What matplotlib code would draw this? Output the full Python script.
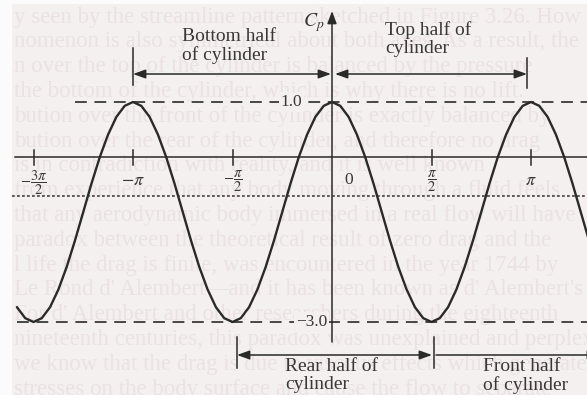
import numpy as np
import matplotlib
matplotlib.use("Agg")
import matplotlib.pyplot as plt
from matplotlib.patches import Rectangle

plt.rcParams['mathtext.fontset'] = 'stix'
plt.rcParams['font.family'] = ['Liberation Serif', 'DejaVu Serif']
plt.rcParams['lines.scale_dashes'] = False

# Pressure coefficient around the cylinder, sampled every 7.5 degrees of theta
theta_deg = np.arange(-285.0, 240.1, 7.5)
cp = [-2.73, -2.93, -3.00, -2.93, -2.73, -2.41, -2.00, -1.52, -1.00, -0.48,
      0.00, 0.41, 0.73, 0.93, 1.00,
      0.93, 0.73, 0.41, 0.00, -0.48, -1.00, -1.52, -2.00, -2.41, -2.73,
      -2.93, -3.00, -2.93, -2.73, -2.41, -2.00, -1.52, -1.00, -0.48, 0.00,
      0.41, 0.73, 0.93, 1.00,
      0.93, 0.73, 0.41, 0.00, -0.48, -1.00, -1.52, -2.00, -2.41, -2.73,
      -2.93, -3.00, -2.93, -2.73, -2.41, -2.00, -1.52, -1.00, -0.48, 0.00,
      0.41, 0.73, 0.93, 1.00,
      0.93, 0.73, 0.41, 0.00, -0.48, -1.00, -1.52, -2.00]

# theta ticks in units of pi
tick_pos = [-1.5, -1.0, -0.5, 0.0, 0.5, 1.0]
tick_labels = [r'$-\dfrac{3\pi}{2}$', r'$-\pi$', r'$-\dfrac{\pi}{2}$', '0',
               r'$\dfrac{\pi}{2}$', r'$\pi$']

ref_levels = [1.0, -3.0]
ref_labels = ['1.0', '\u22123.0']

region_labels = ['Bottom half\nof cylinder', 'Top half of\ncylinder',
                 'Rear half of\ncylinder', 'Front half\nof cylinder']

page_lines = [
    "y seen by the streamline pattern sketched in Figure 3.26. How",
    "nomenon is also symmetrical about both axes. As a result, the",
    "n over the top of the cylinder is balanced by the pressure",
    "the bottom of the cylinder, which is why there is no lift.",
    "bution over the front of the cylinder is exactly balanced by",
    "bution over the rear of the cylinder, and therefore no drag",
    "is in contradiction with reality, and it is well known",
    "from experience that any body moving through a fluid feels",
    "that any aerodynamic body immersed in a real flow will have",
    "paradox between the theoretical result of zero drag and the",
    "l life the drag is finite, was encountered in the year 1744 by",
    "Le Rond d' Alembert\u2014and it has been known as d' Alembert's",
    "For d' Alembert and other researchers during the eighteenth",
    "nineteenth centuries, this paradox was unexplained and perplexing",
    "we know that the drag is due to viscous effects which generate",
    "stresses on the body surface and cause the flow to separate",
]

W, H = 587, 395
INK = '#2a2a2a'
TXT = '#383838'
PAPER = '#f5f0f0'

fig = plt.figure(figsize=(W / 100, H / 100), dpi=100)
fig.patch.set_facecolor('#fcfbfb')

# page background with faint text showing through from the other side
bg = fig.add_axes([0, 0, 1, 1])
bg.set_xlim(0, W)
bg.set_ylim(H, 0)
bg.axis('off')
bg.add_patch(Rectangle((12, 4), W, H, facecolor=PAPER, edgecolor='none'))
for i, line in enumerate(page_lines):
    bg.text(14, 17 + 24.8 * i, line, ha='left', va='center', fontsize=16.5,
            color='#ebe2e2', clip_on=True)

# data axes: x in units of pi, y in Cp
x0, sx = 332.0, 199.0
y0, sy = 157.0, 55.0
ax = fig.add_axes([0, 0, 1, 1])
ax.patch.set_alpha(0)
ax.set_xlim(-x0 / sx, (W - x0) / sx)
ax.set_ylim((y0 - H) / sy, y0 / sy)
ax.axis('off')

th = theta_deg / 180.0
ax.plot(th, cp, color=INK, lw=1.7, solid_capstyle='round', zorder=4)

# theta axis and its ticks
ax.plot([(15 - x0) / sx, 1.4], [0, 0], color=INK, lw=1.1, zorder=3)
for t, lab in zip(tick_pos, tick_labels):
    if t != 0.0:
        ax.plot([t, t], [0.12, -0.14], color=INK, lw=1.1, zorder=3)
        is_frac = 'frac' in lab
        ax.text(t, -0.2 if is_frac else -0.27, lab, ha='center', va='top',
                fontsize=10.5 if is_frac else 13, color=TXT)
    else:
        ax.text(t + 12 / sx, -0.28, lab, ha='left', va='top', fontsize=12.5,
                color=TXT)

# reference levels
ref_start = [(75 - x0) / sx, (17 - x0) / sx]
ref_label_x = [(302 - x0) / sx, (327 - x0) / sx]
for lev, lab, xs, xl in zip(ref_levels, ref_labels, ref_start, ref_label_x):
    ax.plot([xs, 1.4], [lev, lev], color=INK, lw=1.2,
            linestyle=(0, (8.5, 5.5)), zorder=2)
    ax.text(xl, lev, lab, ha='right', va='center', fontsize=12.5, color=TXT,
            zorder=5, bbox=dict(boxstyle='square,pad=0.1', facecolor=PAPER,
                                edgecolor='none'))

# Cp axis
ax.annotate('', xy=(0, (y0 - 11) / sy), xytext=(0, (y0 - 342) / sy),
            arrowprops=dict(arrowstyle='-|>,head_length=0.75,head_width=0.28',
                            lw=1.1, color=INK, shrinkA=0, shrinkB=0), zorder=3)

# annotations in pixel space
fg = fig.add_axes([0, 0, 1, 1])
fg.patch.set_alpha(0)
fg.set_xlim(0, W)
fg.set_ylim(H, 0)
fg.axis('off')

fg.text(314, 23, r'$C_p$', ha='center', va='center', fontsize=14, color=TXT)

dbl = dict(arrowstyle='<|-|>,head_length=0.75,head_width=0.27', lw=1.1,
           color=INK, shrinkA=0, shrinkB=0)
one = dict(arrowstyle='<|-,head_length=0.75,head_width=0.27', lw=1.1,
           color=INK, shrinkA=0, shrinkB=0)

# upper span markers
fg.annotate('', xy=(133, 74), xytext=(331, 74), arrowprops=dbl)
fg.annotate('', xy=(335, 74), xytext=(527, 74), arrowprops=dbl)
fg.plot([133, 133], [48, 85], color=INK, lw=1.1)
fg.plot([527, 527], [58, 88], color=INK, lw=1.1)

# lower span markers
fg.annotate('', xy=(237, 355), xytext=(432, 355), arrowprops=dbl)
fg.annotate('', xy=(436, 355), xytext=(600, 355), arrowprops=one)
fg.plot([237, 237], [337, 368], color=INK, lw=1.1)
fg.plot([434, 434], [337, 368], color=INK, lw=1.1)

label_xy = [(182, 28), (385, 21), (285, 358), (483, 358)]
for (lx, ly), lab in zip(label_xy, region_labels):
    fg.text(lx, ly, lab, ha='left', va='top', fontsize=14, color=TXT,
            linespacing=1.1)

# dotted rule across the page
fg.plot([12, W], [196, 196], color='#333333', lw=1.1,
        linestyle=(0, (2.0, 1.6)))

fig.savefig('out.png', dpi=100, facecolor=fig.get_facecolor())
